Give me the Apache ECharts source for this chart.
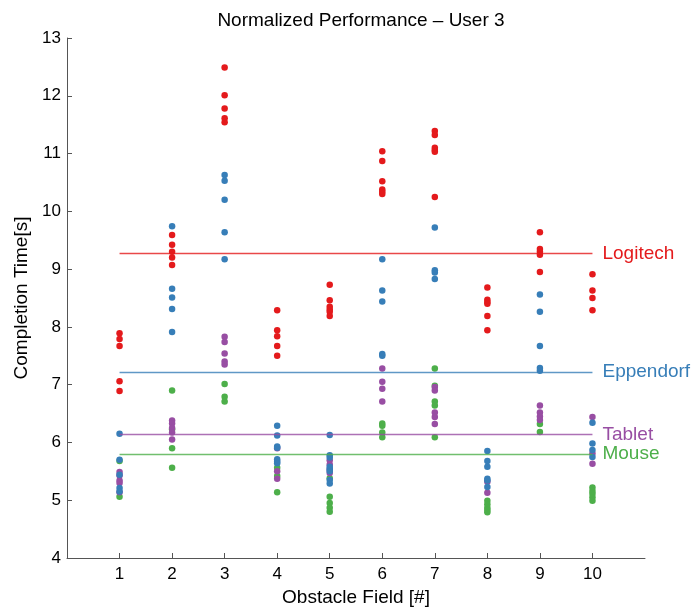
<!DOCTYPE html>
<html>
<head>
<meta charset="utf-8">
<script src="https://cdn.jsdelivr.net/npm/echarts@6/dist/echarts.min.js"></script>
<style>
  html, body { margin: 0; padding: 0; background: #fff; }
  #chart { width: 691px; height: 608px; }
</style>
</head>
<body>
<div id="chart"></div>
<script>
// obstacle fields 1..10, completion times per field
const fields = [1, 2, 3, 4, 5, 6, 7, 8, 9, 10]
const yTicks = [4, 5, 6, 7, 8, 9, 10, 11, 12, 13]

const logitech = [
  [7.89, 7.79, 7.67, 7.06, 6.89],
  [9.59, 9.42, 9.30, 9.20, 9.07],
  [12.49, 12.01, 11.78, 11.61, 11.54],
  [8.29, 7.94, 7.84, 7.67, 7.50],
  [8.73, 8.46, 8.35, 8.30, 8.26, 8.19],
  [11.04, 10.87, 10.52, 10.38, 10.34, 10.30],
  [11.39, 11.32, 11.10, 11.06, 11.03, 10.25],
  [8.68, 8.47, 8.43, 8.40, 8.19, 7.94],
  [9.64, 9.35, 9.30, 9.25, 8.95],
  [8.91, 8.63, 8.50, 8.29]
]
const eppendorf = [
  [6.15, 5.70, 5.44, 5.21, 5.15],
  [9.74, 8.66, 8.51, 8.31, 7.91],
  [10.63, 10.53, 10.20, 9.64, 9.17],
  [6.29, 6.12, 5.93, 5.91, 5.71, 5.67, 5.64],
  [6.13, 5.78, 5.74, 5.58, 5.54, 5.50, 5.35, 5.29],
  [9.17, 8.63, 8.44, 7.53, 7.50],
  [9.72, 8.98, 8.94, 8.83],
  [5.85, 5.68, 5.58, 5.37, 5.34, 5.23],
  [8.56, 8.26, 7.67, 7.29, 7.24],
  [6.34, 5.98, 5.87, 5.75]
]
const tablet = [
  [5.49, 5.43, 5.34, 5.30, 5.14],
  [6.38, 6.33, 6.25, 6.17, 6.05],
  [7.83, 7.74, 7.54, 7.40, 7.35],
  [5.90, 5.50, 5.37],
  [5.69, 5.62, 5.53, 5.47],
  [7.28, 7.05, 6.93, 6.71],
  [6.96, 6.90, 6.52, 6.44, 6.32],
  [5.32, 5.13],
  [6.64, 6.52, 6.45, 6.39],
  [6.44, 5.81, 5.63]
]
const mouse = [
  [5.68, 5.06],
  [6.90, 6.23, 5.90, 5.56],
  [7.01, 6.79, 6.71],
  [5.56, 5.42, 5.14],
  [5.38, 5.06, 4.95, 4.87, 4.80],
  [6.33, 6.29, 6.17, 6.09],
  [7.28, 6.98, 6.71, 6.64, 6.09],
  [4.99, 4.93, 4.87, 4.83, 4.79],
  [6.32, 6.18],
  [5.22, 5.16, 5.11, 5.05, 4.99]
]

const deviceNames = ['Logitech', 'Eppendorf', 'Tablet', 'Mouse']
const meanTimes = [9.27, 7.22, 6.14, 5.80]
const colors = ['#e41a1c', '#377eb8', '#984ea3', '#4daf4a']
const lineColors = ['rgba(228,26,28,0.8)', 'rgba(55,126,184,0.8)', 'rgba(152,78,163,0.8)', 'rgba(77,175,74,0.8)']

const font = 'Liberation Sans, Arial, Helvetica, sans-serif'

function toPoints(rows) {
  const pts = []
  rows.forEach((vals, i) => {
    vals.forEach(v => pts.push([fields[i], v]))
  })
  return pts
}

const groups = [logitech, eppendorf, tablet, mouse]

// draw order: mouse, tablet, eppendorf, logitech on top
const series = [3, 2, 1, 0].map(k => {
  return {
    name: deviceNames[k],
    type: 'scatter',
    symbolSize: 6.5,
    itemStyle: { color: colors[k], opacity: 1 },
    data: toPoints(groups[k]),
    markLine: {
      silent: true,
      animation: false,
      symbol: 'none',
      lineStyle: { color: lineColors[k], width: 1.4, type: 'solid' },
      label: {
        show: true,
        position: 'end',
        formatter: deviceNames[k],
        color: colors[k],
        fontSize: 19,
        fontFamily: font,
        distance: 10
      },
      data: [[
        { coord: [fields[0], meanTimes[k]] },
        { coord: [fields[fields.length - 1], meanTimes[k]] }
      ]]
    }
  }
})

const chart = echarts.init(document.getElementById('chart'))
chart.setOption({
  animation: false,
  textStyle: { fontFamily: font },
  title: {
    text: 'Normalized Performance \u2013 User 3',
    left: 356,
    top: 6,
    textAlign: 'center',
    textStyle: { fontSize: 19, fontWeight: 'normal', color: '#000', fontFamily: font }
  },
  grid: {
    left: 67,
    right: 46,
    top: 38,
    bottom: 50,
    containLabel: false,
    outerBoundsMode: 'none'
  },
  xAxis: {
    type: 'value',
    min: 0,
    max: 11,
    interval: 1,
    name: 'Obstacle Field [#]',
    nameLocation: 'middle',
    nameGap: 24,
    nameTextStyle: { fontSize: 19, color: '#000', fontFamily: font },
    axisLine: { lineStyle: { color: '#555', width: 1 } },
    axisTick: { inside: true, length: 5, customValues: fields, lineStyle: { color: '#555' } },
    axisLabel: { customValues: fields, fontSize: 17, color: '#000', margin: 8, fontFamily: font },
    splitLine: { show: false }
  },
  yAxis: {
    type: 'value',
    min: 4,
    max: 13,
    interval: 1,
    name: 'Completion Time[s]',
    nameLocation: 'middle',
    nameGap: 36,
    nameTextStyle: { fontSize: 19, color: '#000', fontFamily: font },
    axisLine: { show: true, lineStyle: { color: '#555', width: 1 } },
    axisTick: { show: true, inside: true, length: 5, customValues: yTicks, lineStyle: { color: '#555' } },
    axisLabel: { customValues: yTicks, fontSize: 17, color: '#000', margin: 6, fontFamily: font },
    splitLine: { show: false }
  },
  series: series
})
</script>
</body>
</html>
